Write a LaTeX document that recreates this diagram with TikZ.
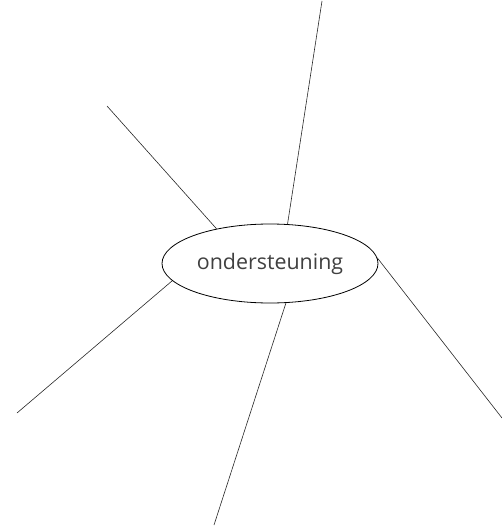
\documentclass[tikz,border=0pt]{standalone}
\usepackage{fontspec}
\setmainfont{Open Sans}
\usetikzlibrary{shapes.geometric}

\begin{document}
\begin{tikzpicture}[
        x=1pt, y=-1pt,
        hub/.style={draw, ellipse, minimum width=216pt, minimum height=79pt,
            inner sep=0pt, line width=0.8pt, font=\fontsize{21.4}{24}\selectfont,
            text=black!75},
        spoke/.style={draw, line width=0.6pt, black!85},
    ]
    \useasboundingbox (0,0) rectangle (502,527);

    \node[hub](hub) at (270,263.5){ondersteuning};

    % free ends of the spokes
    \coordinate (top) at (322,1);
    \coordinate (upleft) at (107,106);
    \coordinate (lowleft) at (17,413);
    \coordinate (bottom) at (214,525);
    \coordinate (right) at (502,418);

    \draw[spoke] (top) -- (hub.66.7);
    \draw[spoke] (upleft) -- (hub.147);
    \draw[spoke] (lowleft) -- (hub.190.6);
    \draw[spoke] (bottom) -- (hub.-68.3);
    \draw[spoke] (right) -- (hub.3);

    \end{tikzpicture}
\end{document}
